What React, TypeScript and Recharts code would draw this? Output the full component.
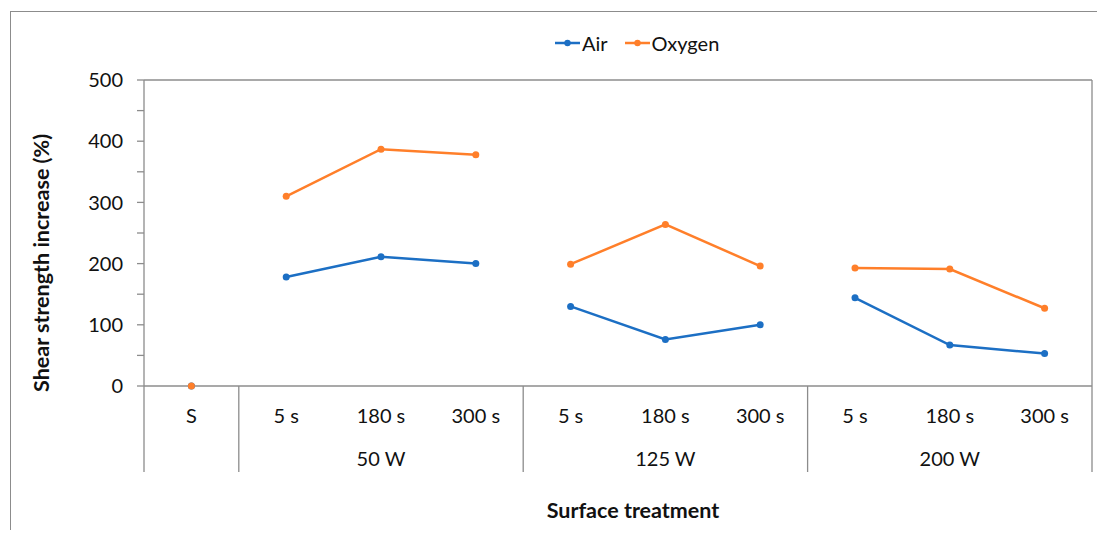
import React from 'react';
import { LineChart, Line, XAxis, YAxis } from 'recharts';

// categories along the x axis, grouped by power
const categories = ['S', '5 s', '180 s', '300 s', '5 s', '180 s', '300 s', '5 s', '180 s', '300 s'];
const groupLabels = ['', '50 W', '125 W', '200 W'];
const groupOf = [0, 1, 1, 1, 2, 2, 2, 3, 3, 3];

// shear strength increase (%)
const airValues = [0, 178, 211, 200, 130, 76, 100, 144, 67, 53];
const oxygenValues = [0, 310, 387, 378, 199, 264, 196, 193, 191, 127];

const yTicks = [0, 50, 100, 150, 200, 250, 300, 350, 400, 450, 500];

const AIR = '#1C6FC4';
const OXYGEN = '#FF7F2A';
const AXIS = '#8c8c8c';
const TEXT = '#111';
const FONT = 'Lato, "Open Sans", sans-serif';

const W = 1105;
const H = 538;
// top/right axes below are 1px thick, so plot area is 144..1092 x 80..386
const MARGIN = { top: 79, right: 12, bottom: 0, left: 0 };
const Y_AXIS_W = 144;
const X_AXIS_H = 152;
const BAND = (W - MARGIN.left - MARGIN.right - 1 - Y_AXIS_W) / categories.length;

// one line segment per group so the lines break between groups
const data = categories.map((cat, i) => {
  const row: Record<string, any> = { key: `c${i}`, label: cat };
  const g = groupOf[i];
  row[`air${g}`] = airValues[i];
  row[`oxy${g}`] = oxygenValues[i];
  return row;
});

const CategoryTick = (props: any) => {
  const { x, y, index } = props;
  const g = groupOf[index];
  const isFirst = index === 0 || groupOf[index - 1] !== g;
  const isLast = index === categories.length - 1;
  const size = groupOf.filter((v) => v === g).length;
  const left = x - BAND / 2;
  return (
    <g>
      <text x={x} y={y + 37} textAnchor="middle" fill={TEXT} fontSize={20} fontFamily={FONT}>
        {categories[index]}
      </text>
      {isFirst && <line x1={left} x2={left} y1={y} y2={y + 86} stroke={AXIS} strokeWidth={1.3} />}
      {isFirst && groupLabels[g] && (
        <text x={left + (size * BAND) / 2} y={y + 80} textAnchor="middle" fill={TEXT} fontSize={20} fontFamily={FONT}>
          {groupLabels[g]}
        </text>
      )}
      {isLast && <line x1={x + BAND / 2} x2={x + BAND / 2} y1={y} y2={y + 86} stroke={AXIS} strokeWidth={1.3} />}
    </g>
  );
};

const XTitle = (props: any) => {
  const { viewBox } = props;
  return (
    <text
      x={viewBox.x + viewBox.width / 2 + 15}
      y={viewBox.y + viewBox.height - 20}
      textAnchor="middle"
      fill={TEXT}
      fontSize={21.5}
      fontWeight="bold"
      fontFamily={FONT}
    >
      Surface treatment
    </text>
  );
};

const YTitle = (props: any) => {
  const { viewBox } = props;
  const cx = viewBox.x + 41;
  const cy = viewBox.y + viewBox.height / 2 + 30;
  return (
    <text
      x={cx}
      y={cy}
      transform={`rotate(-90, ${cx}, ${cy})`}
      textAnchor="middle"
      dominantBaseline="central"
      fill={TEXT}
      fontSize={21.5}
      fontWeight="bold"
      fontFamily={FONT}
    >
      Shear strength increase (%)
    </text>
  );
};

const LegendItem = ({ color, label }: { color: string; label: string }) => (
  <div style={{ display: 'flex', alignItems: 'center', marginRight: 17 }}>
    <svg width={25} height={10} style={{ marginRight: 2 }}>
      <line x1={0} x2={25} y1={5} y2={5} stroke={color} strokeWidth={2.5} />
      <circle cx={12.5} cy={5} r={3.2} fill={color} />
    </svg>
    <span>{label}</span>
  </div>
);

export default function App() {
  const groups = [0, 1, 2, 3];
  return (
    <div style={{ position: 'relative', width: W, height: H, margin: -8, overflow: 'hidden', background: '#fff' }}>
      <div
        style={{
          position: 'absolute',
          left: 10,
          top: 11,
          width: W,
          height: H,
          borderTop: `1.5px solid ${AXIS}`,
          borderLeft: `1.5px solid ${AXIS}`,
        }}
      />
      <div
        style={{
          position: 'absolute',
          left: 555,
          top: 31,
          display: 'flex',
          fontFamily: FONT,
          fontSize: 20,
          color: TEXT,
          lineHeight: '24px',
        }}
      >
        <LegendItem color={AIR} label="Air" />
        <LegendItem color={OXYGEN} label="Oxygen" />
      </div>
      <LineChart width={W} height={H} data={data} margin={MARGIN} style={{ position: 'absolute', left: 0, top: 0 }}>
        <XAxis
          dataKey="key"
          height={X_AXIS_H}
          padding={{ left: BAND / 2, right: BAND / 2 }}
          interval={0}
          tickLine={false}
          tickSize={0}
          tickMargin={0}
          axisLine={{ stroke: AXIS, strokeWidth: 1.3 }}
          tick={<CategoryTick />}
          label={<XTitle />}
        />
        {/* top and right edges of the plot frame */}
        <XAxis
          xAxisId="top"
          orientation="top"
          dataKey="key"
          height={1}
          tick={false}
          tickLine={false}
          axisLine={{ stroke: AXIS, strokeWidth: 1.3 }}
        />
        <YAxis
          yAxisId="right"
          orientation="right"
          domain={[0, 500]}
          width={1}
          tick={false}
          tickLine={false}
          axisLine={{ stroke: AXIS, strokeWidth: 1.3 }}
        />
        <YAxis
          width={Y_AXIS_W}
          domain={[0, 500]}
          ticks={yTicks}
          interval={0}
          tickSize={7}
          tickMargin={14}
          tickLine={{ stroke: AXIS, strokeWidth: 1.3 }}
          axisLine={{ stroke: AXIS, strokeWidth: 1.3 }}
          tick={{ fill: TEXT, fontSize: 20, fontFamily: FONT }}
          tickFormatter={(v: number) => (v % 100 === 0 ? String(v) : '')}
          label={<YTitle />}
        />
        {groups.map((g) => (
          <Line
            key={`air${g}`}
            dataKey={`air${g}`}
            stroke={AIR}
            strokeWidth={2.5}
            dot={{ r: 3.5, fill: AIR, stroke: 'none' }}
            activeDot={false}
            isAnimationActive={false}
          />
        ))}
        {groups.map((g) => (
          <Line
            key={`oxy${g}`}
            dataKey={`oxy${g}`}
            stroke={OXYGEN}
            strokeWidth={2.5}
            dot={{ r: 3.5, fill: OXYGEN, stroke: 'none' }}
            activeDot={false}
            isAnimationActive={false}
          />
        ))}
      </LineChart>
    </div>
  );
}
